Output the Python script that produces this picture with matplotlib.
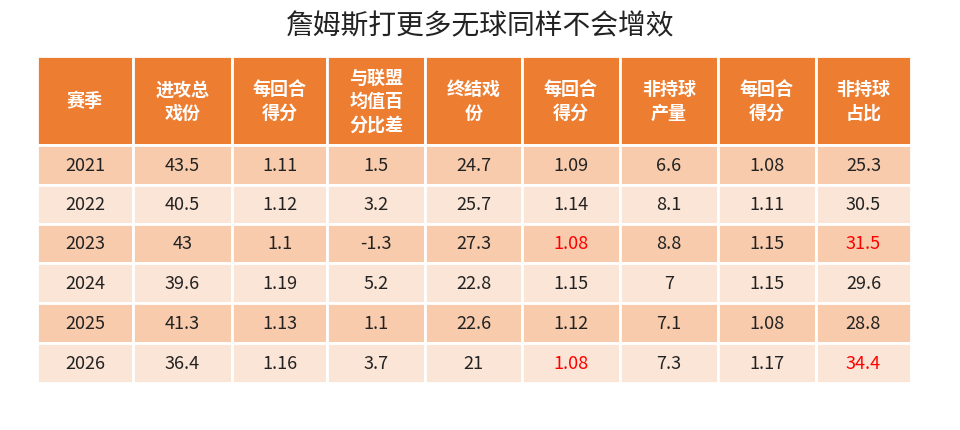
import matplotlib
matplotlib.use("Agg")
import matplotlib.pyplot as plt
from matplotlib.patches import Rectangle

plt.rcParams['font.family'] = ['Noto Sans CJK SC', 'DejaVu Sans']

title = "詹姆斯打更多无球同样不会增效"
headers = ["赛季", "进攻总\n戏份", "每回合\n得分", "与联盟\n均值百\n分比差", "终结戏\n份", "每回合\n得分", "非持球\n产量", "每回合\n得分", "非持球\n占比"]
seasons = ["2021", "2022", "2023", "2024", "2025", "2026"]
offense_share = ["43.5", "40.5", "43", "39.6", "41.3", "36.4"]
ppp1 = ["1.11", "1.12", "1.1", "1.19", "1.13", "1.16"]
league_diff = ["1.5", "3.2", "-1.3", "5.2", "1.1", "3.7"]
finish_share = ["24.7", "25.7", "27.3", "22.8", "22.6", "21"]
ppp2 = ["1.09", "1.14", "1.08", "1.15", "1.12", "1.08"]
offball_prod = ["6.6", "8.1", "8.8", "7", "7.1", "7.3"]
ppp3 = ["1.08", "1.11", "1.15", "1.15", "1.08", "1.17"]
offball_pct = ["25.3", "30.5", "31.5", "29.6", "28.8", "34.4"]
red_cells = {(2, 5), (5, 5), (2, 8), (5, 8)}

cols = [seasons, offense_share, ppp1, league_diff, finish_share, ppp2, offball_prod, ppp3, offball_pct]
xs = [37, 133, 232, 327, 425, 522, 620, 718, 816, 911]
ys = [57, 146, 186, 225, 264, 304, 344, 384]

fig = plt.figure(figsize=(9.6, 4.31), dpi=100)
ax = fig.add_axes([0, 0, 1, 1])
ax.set_xlim(0, 960); ax.set_ylim(431, 0); ax.axis('off')

ax.text(480, 26, title, ha='center', va='center', fontsize=20, color='#222222')

for j, h in enumerate(headers):
    ax.add_patch(Rectangle((xs[j], ys[0]), xs[j+1]-xs[j], ys[1]-ys[0], fc='#ED7D31', ec='white', lw=2))
    ax.text((xs[j]+xs[j+1])/2, (ys[0]+ys[1])/2, h, ha='center', va='center', fontsize=13,
            color='white', fontweight='bold', linespacing=1.3)

for i in range(len(seasons)):
    fc = '#F8CBAD' if i % 2 == 0 else '#FBE5D6'
    for j, col in enumerate(cols):
        ax.add_patch(Rectangle((xs[j], ys[i+1]), xs[j+1]-xs[j], ys[i+2]-ys[i+1], fc=fc, ec='white', lw=2))
        color = '#FF0000' if (i, j) in red_cells else '#222222'
        ax.text((xs[j]+xs[j+1])/2, (ys[i+1]+ys[i+2])/2, col[i], ha='center', va='center',
                fontsize=13, color=color)

fig.savefig("out.png", dpi=100)
